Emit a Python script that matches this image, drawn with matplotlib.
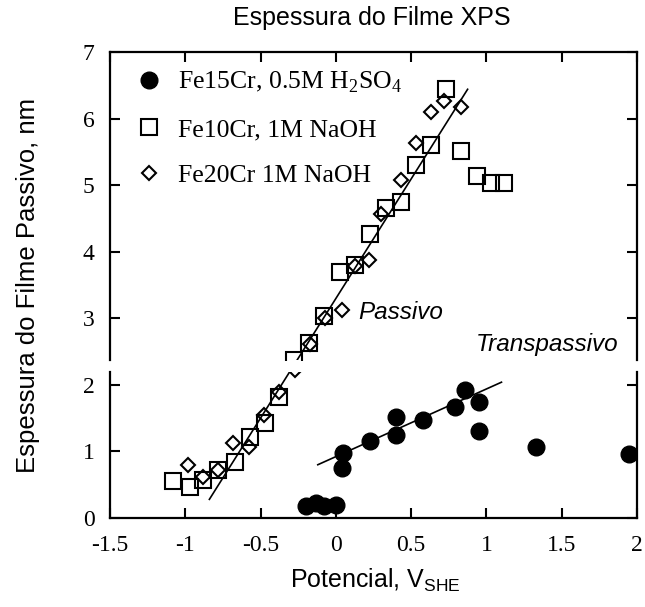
import matplotlib
matplotlib.use("Agg")
import matplotlib.pyplot as plt

plt.rcParams['mathtext.fontset'] = 'custom'
plt.rcParams['mathtext.rm'] = 'Liberation Serif'
plt.rcParams['mathtext.sf'] = 'Liberation Sans'

# Fe15Cr in 0.5M H2SO4 (filled circles)
fe15_x = [-0.20, -0.13, -0.08, 0.00, 0.04, 0.05, 0.23, 0.40, 0.40, 0.58, 0.79, 0.86, 0.95, 0.95, 1.33, 1.95]
fe15_y = [0.18, 0.22, 0.18, 0.20, 0.75, 0.98, 1.15, 1.25, 1.51, 1.47, 1.66, 1.92, 1.75, 1.31, 1.07, 0.96]

# Fe10Cr in 1M NaOH (open squares)
fe10_x = [-1.08, -0.97, -0.88, -0.78, -0.67, -0.57, -0.47, -0.38, -0.28, -0.18, -0.08, 0.03, 0.13,
          0.23, 0.33, 0.43, 0.53, 0.63, 0.73, 0.83, 0.94, 1.03, 1.12]
fe10_y = [0.55, 0.46, 0.57, 0.72, 0.84, 1.22, 1.42, 1.82, 2.38, 2.63, 3.04, 3.70, 3.80,
          4.26, 4.65, 4.74, 5.31, 5.60, 6.45, 5.51, 5.13, 5.03, 5.03]

# Fe20Cr in 1M NaOH (open diamonds)
fe20_x = [-0.98, -0.88, -0.78, -0.68, -0.58, -0.48, -0.38, -0.27, -0.17, -0.07, 0.04, 0.13,
          0.22, 0.30, 0.43, 0.53, 0.63, 0.72, 0.83]
fe20_y = [0.80, 0.62, 0.72, 1.12, 1.07, 1.55, 1.90, 2.22, 2.62, 3.00, 3.13, 3.78,
          3.87, 4.56, 5.08, 5.63, 6.10, 6.26, 6.18]

# Linear fits: passive film growth in NaOH and in H2SO4
fit_naoh_x = [-0.84, 0.875]
fit_naoh_y = [0.28, 6.44]
fit_acid_x = [-0.12, 1.10]
fit_acid_y = [0.80, 2.04]

x_ticks = [-1.5, -1, -0.5, 0, 0.5, 1, 1.5, 2]
x_tick_labels = ['-1.5', '-1', '-0.5', '0', '0.5', '1', '1.5', '2']
y_ticks_low = [0, 1, 2]
y_ticks_high = [3, 4, 5, 6, 7]

labels = ['Fe15Cr, 0.5M H$_\\mathrm{2}$SO$_\\mathrm{4}$', 'Fe10Cr, 1M NaOH', 'Fe20Cr 1M NaOH']

fig = plt.figure(figsize=(6.45, 6.07), dpi=100)
W_PX, H_PX = 645.0, 607.0
left, right = 110 / W_PX, 637 / W_PX
y0_px, y7_px = 518.0, 52.0
unit = (y0_px - y7_px) / 7.0
gap_lo_px, gap_hi_px = 372.0, 360.0

ax_lo = fig.add_axes([left, 1 - y0_px / H_PX, right - left, (y0_px - gap_lo_px) / H_PX])
ax_hi = fig.add_axes([left, 1 - gap_hi_px / H_PX, right - left, (gap_hi_px - y7_px) / H_PX])

ax_lo.set_ylim(0, (y0_px - gap_lo_px) / unit)
ax_hi.set_ylim((y0_px - gap_hi_px) / unit, 7)

serif = 'Liberation Serif'
sans = 'Liberation Sans'

for ax in (ax_lo, ax_hi):
    ax.set_xlim(-1.5, 2)
    ax.plot(fit_naoh_x, fit_naoh_y, color='black', lw=1.2, zorder=2)
    ax.plot(fit_acid_x, fit_acid_y, color='black', lw=1.2, zorder=2)
    ax.plot(fe15_x, fe15_y, 'o', ms=12, color='black', mec='black', zorder=3, label=labels[0])
    ax.plot(fe10_x, fe10_y, 's', ms=11.5, mfc='none', mec='black', mew=1.5, zorder=3, label=labels[1])
    ax.plot(fe20_x, fe20_y, 'D', ms=7.5, mfc='none', mec='black', mew=1.5, zorder=3, label=labels[2])
    for s in ax.spines.values():
        s.set_linewidth(1.6)
    ax.set_xticks(x_ticks)
    ax.tick_params(direction='in', length=7, width=1.5, labelsize=17)
    ax.tick_params(axis='y', pad=11)
    ax.tick_params(axis='x', pad=12)

ax_lo.spines['top'].set_visible(False)
ax_hi.spines['bottom'].set_visible(False)

ax_lo.set_yticks(y_ticks_low)
ax_lo.set_yticklabels([str(v) for v in y_ticks_low], fontfamily=serif)
ax_lo.set_xticklabels(x_tick_labels, fontfamily=serif)
ax_lo.tick_params(top=False, right=True, bottom=True, left=True)

ax_hi.set_yticks(y_ticks_high)
ax_hi.set_yticklabels([str(v) for v in y_ticks_high], fontfamily=serif)
ax_hi.tick_params(top=True, bottom=False, labelbottom=False, right=True, left=True)

ax_hi.legend(loc='upper left', frameon=False, prop={'family': serif, 'size': 18.5},
             handletextpad=0.55, labelspacing=0.88, borderaxespad=0.3, handlelength=1.2,
             bbox_to_anchor=(0.01, 1.0))

ax_hi.text(0.15, 3.09, 'Passivo', fontfamily=sans, style='italic', fontsize=17.5,
           ha='left', va='center')
ax_hi.text(0.93, 2.6, 'Transpassivo', fontfamily=sans, style='italic', fontsize=17.5,
           ha='left', va='center')

fig.text(372 / W_PX, 1 - 18 / H_PX, 'Espessura do Filme XPS', fontfamily=sans, fontsize=18,
         ha='center', va='center')
fig.text(28 / W_PX, 1 - 285 / H_PX, 'Espessura do Filme Passivo, nm', fontfamily=sans,
         fontsize=18.5, rotation=90, ha='center', va='center')
fig.text(375 / W_PX, 1 - 580 / H_PX, 'Potencial, V$_\\mathsf{SHE}$', fontfamily=sans,
         fontsize=18, ha='center', va='center')

fig.savefig('out.png', dpi=100)
